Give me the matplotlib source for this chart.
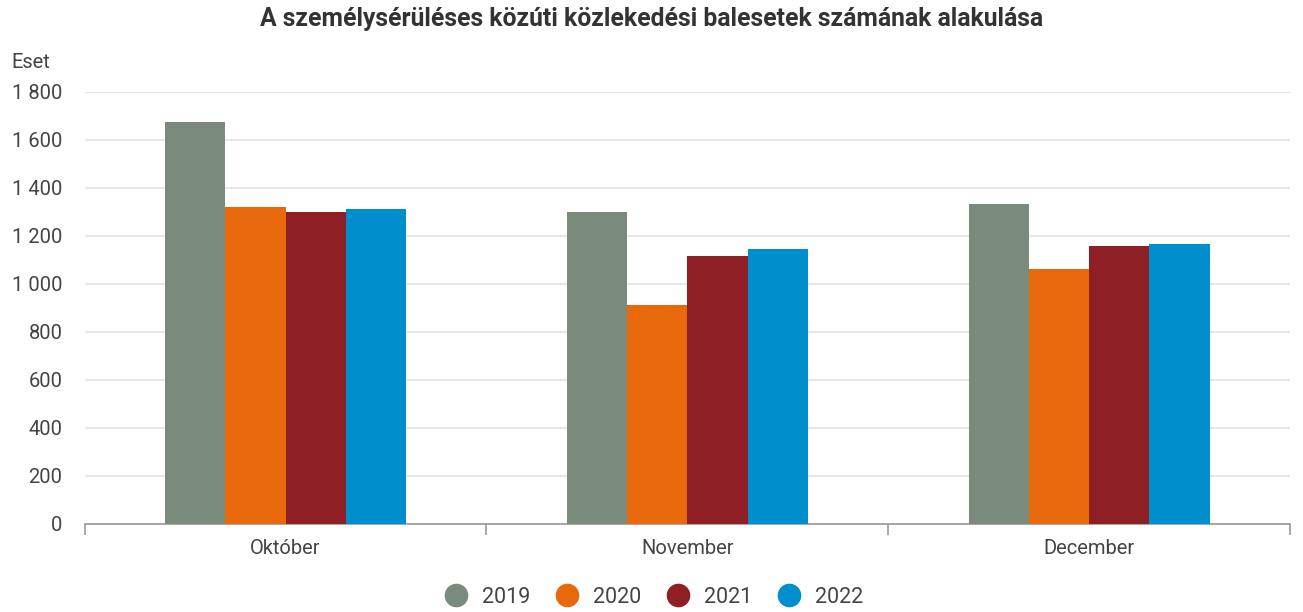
import matplotlib.pyplot as plt
import numpy as np
from matplotlib.lines import Line2D

plt.rcParams['font.family'] = ['Roboto', 'DejaVu Sans']

months = ["Október", "November", "December"]
years = ["2019", "2020", "2021", "2022"]
v2019 = [1677, 1300, 1333]
v2020 = [1320, 911, 1061]
v2021 = [1300, 1118, 1157]
v2022 = [1314, 1145, 1165]
colors = ["#7a8a7c", "#e8680c", "#8e1f24", "#008fcc"]
yticks = [0, 200, 400, 600, 800, 1000, 1200, 1400, 1600, 1800]

fig = plt.figure(figsize=(13.03, 6.12), dpi=100)
ax = fig.add_axes([0.065, 0.1438, 0.925, 0.7059])

x = np.arange(len(months))
w = 0.15
series = [v2019, v2020, v2021, v2022]
for i, vals in enumerate(series):
    ax.bar(x + (i - 1.5) * w, vals, w, color=colors[i], zorder=3)

ax.set_xlim(-0.5, 2.5)
ax.set_ylim(0, 1800)
ax.set_yticks(yticks)
ax.set_yticklabels([f"{t:,}".replace(",", " ") for t in yticks])
ax.tick_params(axis="y", length=0, labelsize=14.5, labelcolor="#444444", pad=16)
ax.grid(axis="y", color="#e2e2e2", linewidth=1.2, zorder=0)

ax.set_xticks(x)
ax.set_xticklabels(months)
ax.tick_params(axis="x", length=0, labelsize=14.5, labelcolor="#444444", pad=11)
ax.set_xticks([-0.5, 0.5, 1.5, 2.5], minor=True)
ax.tick_params(axis="x", which="minor", length=8, color="#999999", width=1.2)

for s in ["left", "right", "top"]:
    ax.spines[s].set_visible(False)
ax.spines["bottom"].set_color("#999999")
ax.spines["bottom"].set_linewidth(1.2)

fig.text(0.5, 0.969, "A személysérüléses közúti közlekedési balesetek számának alakulása",
         ha="center", va="center", fontsize=17.8, fontweight="bold", color="#333333")
fig.text(0.009, 0.898, "Eset", ha="left", va="center", fontsize=14.5, color="#444444")

handles = [Line2D([], [], marker="o", linestyle="", markersize=16, color=c) for c in colors]
fig.legend(handles, years, loc="center", bbox_to_anchor=(0.498, 0.024), ncol=4, frameon=False,
           fontsize=15.5, handletextpad=0.2, columnspacing=0.72, labelcolor="#444444")

plt.savefig("out.png", dpi=100)
